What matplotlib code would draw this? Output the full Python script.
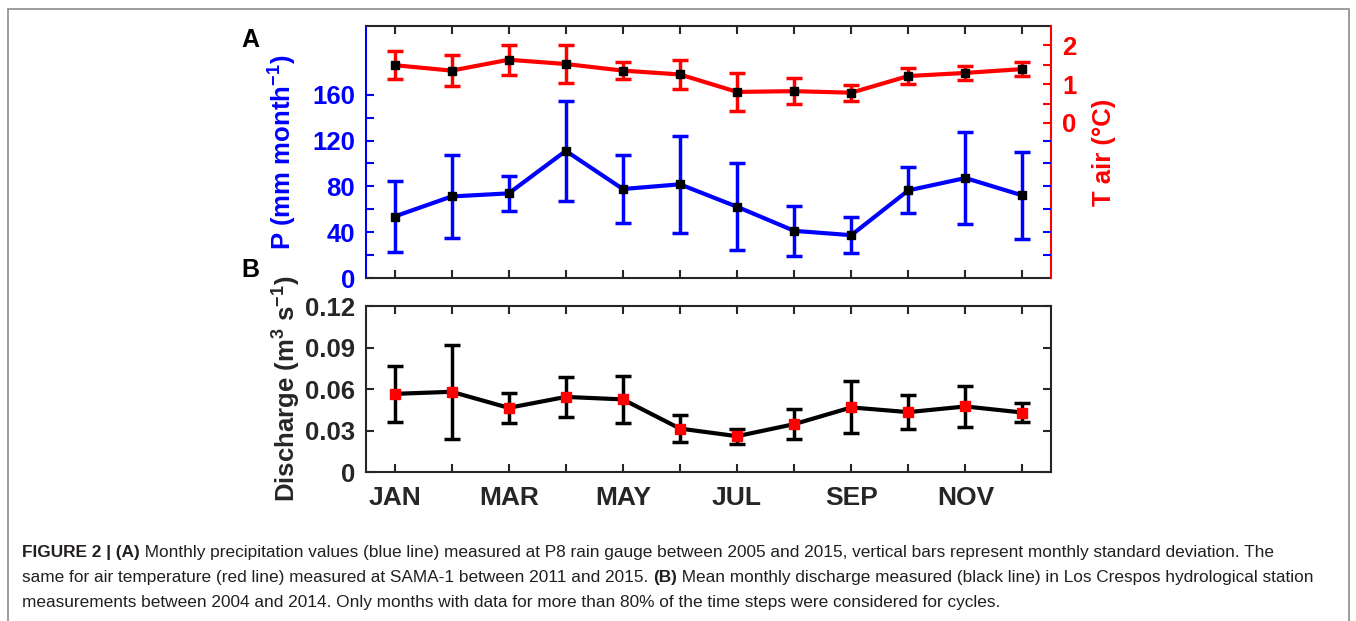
import numpy as np
import matplotlib.pyplot as plt
from matplotlib.patches import Rectangle

plt.rcParams['font.family'] = ['Liberation Sans', 'DejaVu Sans']
plt.rcParams['font.weight'] = 'bold'
plt.rcParams['axes.labelweight'] = 'bold'
plt.rcParams['mathtext.fontset'] = 'custom'
plt.rcParams['mathtext.rm'] = 'Liberation Sans:bold'
plt.rcParams['mathtext.it'] = 'Liberation Sans:bold'
plt.rcParams['mathtext.bf'] = 'Liberation Sans:bold'

# Monthly cycles
months = ['JAN', 'FEB', 'MAR', 'APR', 'MAY', 'JUN', 'JUL', 'AUG', 'SEP', 'OCT', 'NOV', 'DEC']
precip = [53.7, 71.2, 73.9, 111.0, 77.7, 81.8, 62.2, 41.2, 37.4, 76.5, 87.3, 72.1]
precip_sd = [31.4, 36.0, 15.5, 43.4, 30.0, 42.2, 38.0, 22.0, 15.8, 20.0, 39.9, 37.7]
tair = [1.49, 1.35, 1.63, 1.52, 1.35, 1.25, 0.80, 0.82, 0.78, 1.21, 1.29, 1.39]
tair_sd = [0.36, 0.39, 0.39, 0.50, 0.21, 0.38, 0.49, 0.33, 0.21, 0.20, 0.18, 0.19]
discharge = [0.0565, 0.058, 0.0464, 0.0543, 0.0525, 0.0314, 0.0259, 0.0346, 0.0467, 0.0433, 0.0474, 0.043]
discharge_sd = [0.0203, 0.0339, 0.011, 0.0146, 0.017, 0.0095, 0.0054, 0.011, 0.0188, 0.0124, 0.0151, 0.0071]

caption = [
    [('FIGURE 2 | (A)', 'bold'),
     (' Monthly precipitation values (blue line) measured at P8 rain gauge between 2005 and 2015, '
      'vertical bars represent monthly standard deviation. The', 'normal')],
    [('same for air temperature (red line) measured at SAMA-1 between 2011 and 2015. ', 'normal'),
     ('(B)', 'bold'),
     (' Mean monthly discharge measured (black line) in Los Crespos hydrological station', 'normal')],
    [('measurements between 2004 and 2014. Only months with data for more than 80% of the time '
      'steps were considered for cycles.', 'normal')],
]

DARK = '#262626'
x = np.arange(1, 13)

fig = plt.figure(figsize=(13.56, 6.21), dpi=100)
ax_p = fig.add_axes([0.2699, 0.5523, 0.5052, 0.4058])
ax_t = ax_p.twinx()
ax_pr = ax_p.twinx()
ax_q = fig.add_axes([0.2699, 0.2399, 0.5052, 0.2673])

tick_kw = dict(direction='in', length=6, width=1.5)

# (A) precipitation, left axis
ax_p.errorbar(x, precip, yerr=precip_sd, fmt='-s', color='blue', lw=3, ms=6,
              mfc='k', mec='k', elinewidth=2.5, capsize=6, capthick=2.5)
ax_p.set_xlim(0.5, 12.5)
ax_p.set_ylim(0, 220)
ax_p.set_yticks(np.arange(0, 161, 40))
ax_p.set_yticks(np.arange(20, 141, 40), minor=True)
ax_p.tick_params(axis='y', which='both', colors='blue', labelsize=18.5, pad=8,
                 left=True, right=False, **tick_kw)
ax_p.set_xticks(x)
ax_p.tick_params(axis='x', colors=DARK, top=True, labelbottom=False, **tick_kw)
ax_p.set_ylabel('P (mm month$^{-1}$)', color='blue', fontsize=18.5, fontweight='bold')
ax_p.yaxis.set_label_coords(-0.121, 0.5)
ax_p.yaxis.label.set_va('center')
for s in ['top', 'bottom']:
    ax_p.spines[s].set_color(DARK)
    ax_p.spines[s].set_linewidth(1.5)
ax_p.spines['left'].set_color('blue')
ax_p.spines['left'].set_linewidth(1.5)
ax_p.spines['right'].set_visible(False)

# blue ticks on the right spine
ax_pr.set_ylim(0, 220)
ax_pr.set_yticks(np.arange(20, 121, 20))
ax_pr.tick_params(axis='y', colors='blue', labelright=False, **tick_kw)
for s in ax_pr.spines.values():
    s.set_visible(False)

# (A) air temperature, right axis
ax_t.errorbar(x, tair, yerr=tair_sd, fmt='-s', color='red', lw=3, ms=6,
              mfc='k', mec='k', elinewidth=2.5, capsize=6, capthick=2.5)
ax_t.set_ylim(-4, 2.5)
ax_t.set_yticks([0, 0.5, 1, 1.5, 2])
ax_t.set_yticklabels(['0', '', '1', '', '2'])
ax_t.tick_params(axis='y', colors='red', labelsize=18.5, pad=8, **tick_kw)
ax_t.set_ylabel('T air (°C)', color='red', fontsize=18.5, fontweight='bold', rotation=90)
ax_t.yaxis.set_label_coords(1.078, 0.5)
ax_t.yaxis.label.set_va('center')
for s in ['left', 'top', 'bottom']:
    ax_t.spines[s].set_visible(False)
ax_t.spines['right'].set_color('red')
ax_t.spines['right'].set_linewidth(1.5)

# (B) discharge
ax_q.errorbar(x, discharge, yerr=discharge_sd, fmt='-s', color='k', lw=3, ms=6.5,
              mfc='red', mec='red', elinewidth=2.5, capsize=6, capthick=2.5)
ax_q.set_xlim(0.5, 12.5)
ax_q.set_ylim(0, 0.12)
ax_q.set_yticks([0, 0.03, 0.06, 0.09, 0.12])
ax_q.set_yticklabels(['0', '0.03', '0.06', '0.09', '0.12'])
ax_q.set_xticks(x)
ax_q.set_xticklabels([m if i % 2 == 0 else '' for i, m in enumerate(months)])
ax_q.tick_params(axis='y', colors=DARK, labelsize=18.5, pad=8, right=True, **tick_kw)
ax_q.tick_params(axis='x', colors=DARK, labelsize=19, pad=10, top=True, **tick_kw)
ax_q.set_ylabel('Discharge (m$^{3}$ s$^{-1}$)', color=DARK, fontsize=18.5, fontweight='bold')
ax_q.yaxis.set_label_coords(-0.1153, 0.5)
ax_q.yaxis.label.set_va('center')
for s in ax_q.spines.values():
    s.set_color(DARK)
    s.set_linewidth(1.5)

fig.text(0.1844, 0.9356, 'A', fontsize=18, ha='center', va='center', color='k')
fig.text(0.1844, 0.5652, 'B', fontsize=18, ha='center', va='center', color='k')

# caption, drawn run by run so bold pieces sit inline
renderer = fig.canvas.get_renderer()
baselines = [0.1030, 0.0628, 0.0225]
for runs, yb in zip(caption, baselines):
    xpos = 0.0162
    for txt, weight in runs:
        t = fig.text(xpos, yb, txt, fontsize=12.4, fontweight=weight,
                     color='#231f20', ha='left', va='baseline')
        bb = t.get_window_extent(renderer)
        xpos = fig.transFigure.inverted().transform((bb.x1, bb.y0))[0]

fig.add_artist(Rectangle((8 / 1356, -0.1), 1341 / 1356, 1.1 - 9 / 621,
                         transform=fig.transFigure, fill=False,
                         edgecolor='#8c8c8c', lw=1.2, clip_on=False))

fig.savefig('out.png', dpi=100)
